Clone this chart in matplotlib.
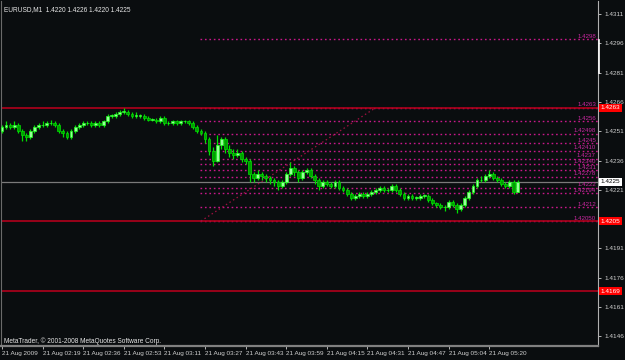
import numpy as np
import matplotlib
matplotlib.use("Agg")
import matplotlib.pyplot as plt
from matplotlib.lines import Line2D

plt.rcParams['font.family'] = ['Liberation Sans', 'DejaVu Sans']

# EURUSD M1 bars (open, high, low, close), 21 Aug 2009 ~02:09 - 05:25
opens = [1.4251, 1.4253, 1.4254, 1.4253, 1.4254, 1.4251, 1.4249, 1.4248, 1.4251, 1.4253,
         1.4254, 1.4254, 1.4255, 1.4255, 1.4254, 1.4251, 1.4250, 1.4248, 1.4251, 1.4253,
         1.4254, 1.4255, 1.4255, 1.4254, 1.4255, 1.4254, 1.4256, 1.4259, 1.4259, 1.4260,
         1.4261, 1.4261, 1.4260, 1.4259, 1.4259, 1.4259, 1.4258, 1.4257, 1.4257, 1.4256,
         1.4258, 1.4255, 1.4255, 1.4256, 1.4255, 1.4256, 1.4256, 1.4255, 1.4253, 1.4251,
         1.4250, 1.4247, 1.4241, 1.4236, 1.4244, 1.4247, 1.4242, 1.4240, 1.4239, 1.4240,
         1.4237, 1.4236, 1.4229, 1.4227, 1.4229, 1.4228, 1.4227, 1.4226, 1.4225, 1.4223,
         1.4225, 1.4229, 1.4232, 1.4230, 1.4227, 1.4230, 1.4231, 1.4228, 1.4226, 1.4223,
         1.4225, 1.4224, 1.4223, 1.4225, 1.4222, 1.4221, 1.4219, 1.4217, 1.4218, 1.4219,
         1.4218, 1.4219, 1.4220, 1.4221, 1.4222, 1.4221, 1.4221, 1.4223, 1.4221, 1.4219,
         1.4217, 1.4218, 1.4217, 1.4217, 1.4218, 1.4218, 1.4216, 1.4214, 1.4213, 1.4212,
         1.4212, 1.4215, 1.4213, 1.4211, 1.4213, 1.4217, 1.4220, 1.4223, 1.4226, 1.4226,
         1.4228, 1.4229, 1.4227, 1.4226, 1.4224, 1.4223, 1.4225, 1.4220]
highs = [1.4254, 1.4256, 1.4255, 1.4256, 1.4255, 1.4252, 1.4250, 1.4252, 1.4254, 1.4255,
         1.4256, 1.4256, 1.4257, 1.4256, 1.4255, 1.4252, 1.4251, 1.4252, 1.4254, 1.4255,
         1.4256, 1.4256, 1.4256, 1.4256, 1.4256, 1.4257, 1.4260, 1.4260, 1.4261, 1.4262,
         1.4263, 1.4262, 1.4261, 1.4261, 1.4260, 1.4260, 1.4259, 1.4258, 1.4258, 1.4259,
         1.4259, 1.4256, 1.4257, 1.4257, 1.4257, 1.4257, 1.4257, 1.4256, 1.4254, 1.4252,
         1.4251, 1.4248, 1.4243, 1.4249, 1.4248, 1.4248, 1.4244, 1.4242, 1.4242, 1.4241,
         1.4238, 1.4237, 1.4230, 1.4231, 1.4230, 1.4229, 1.4228, 1.4227, 1.4226, 1.4226,
         1.4230, 1.4235, 1.4233, 1.4231, 1.4231, 1.4232, 1.4232, 1.4229, 1.4227, 1.4226,
         1.4226, 1.4225, 1.4226, 1.4226, 1.4223, 1.4222, 1.4220, 1.4219, 1.4220, 1.4220,
         1.4220, 1.4221, 1.4222, 1.4223, 1.4223, 1.4222, 1.4224, 1.4224, 1.4222, 1.4220,
         1.4219, 1.4219, 1.4218, 1.4219, 1.4219, 1.4219, 1.4217, 1.4215, 1.4214, 1.4213,
         1.4216, 1.4216, 1.4214, 1.4214, 1.4218, 1.4221, 1.4224, 1.4227, 1.4228, 1.4229,
         1.4231, 1.4230, 1.4228, 1.4227, 1.4225, 1.4226, 1.4226, 1.4226]
lows = [1.4250, 1.4252, 1.4252, 1.4252, 1.4250, 1.4246, 1.4246, 1.4247, 1.4250, 1.4252,
        1.4253, 1.4253, 1.4254, 1.4253, 1.4250, 1.4248, 1.4247, 1.4247, 1.4250, 1.4252,
        1.4253, 1.4254, 1.4253, 1.4253, 1.4253, 1.4253, 1.4255, 1.4258, 1.4258, 1.4259,
        1.4260, 1.4259, 1.4258, 1.4258, 1.4258, 1.4257, 1.4256, 1.4256, 1.4255, 1.4255,
        1.4254, 1.4254, 1.4254, 1.4254, 1.4254, 1.4255, 1.4254, 1.4252, 1.4250, 1.4249,
        1.4245, 1.4239, 1.4233, 1.4235, 1.4242, 1.4240, 1.4238, 1.4237, 1.4238, 1.4235,
        1.4234, 1.4225, 1.4225, 1.4226, 1.4226, 1.4225, 1.4224, 1.4223, 1.4221, 1.4222,
        1.4224, 1.4228, 1.4228, 1.4225, 1.4226, 1.4229, 1.4227, 1.4224, 1.4221, 1.4222,
        1.4223, 1.4222, 1.4222, 1.4221, 1.4220, 1.4218, 1.4216, 1.4216, 1.4217, 1.4217,
        1.4217, 1.4218, 1.4219, 1.4220, 1.4220, 1.4220, 1.4220, 1.4220, 1.4218, 1.4216,
        1.4216, 1.4216, 1.4216, 1.4216, 1.4217, 1.4215, 1.4213, 1.4212, 1.4211, 1.4210,
        1.4211, 1.4212, 1.4209, 1.4210, 1.4212, 1.4216, 1.4219, 1.4222, 1.4225, 1.4225,
        1.4227, 1.4226, 1.4225, 1.4223, 1.4222, 1.4222, 1.4219, 1.4220]
closes = [1.4253, 1.4254, 1.4253, 1.4254, 1.4251, 1.4249, 1.4248, 1.4251, 1.4253, 1.4254,
          1.4254, 1.4255, 1.4255, 1.4254, 1.4251, 1.4250, 1.4248, 1.4251, 1.4253, 1.4254,
          1.4255, 1.4255, 1.4254, 1.4255, 1.4254, 1.4256, 1.4259, 1.4259, 1.4260, 1.4261,
          1.4261, 1.4260, 1.4259, 1.4259, 1.4259, 1.4258, 1.4257, 1.4257, 1.4256, 1.4258,
          1.4255, 1.4255, 1.4256, 1.4255, 1.4256, 1.4256, 1.4255, 1.4253, 1.4251, 1.4250,
          1.4247, 1.4241, 1.4236, 1.4244, 1.4247, 1.4242, 1.4240, 1.4239, 1.4240, 1.4237,
          1.4236, 1.4229, 1.4227, 1.4229, 1.4228, 1.4227, 1.4226, 1.4225, 1.4223, 1.4225,
          1.4229, 1.4232, 1.4230, 1.4227, 1.4230, 1.4231, 1.4228, 1.4226, 1.4223, 1.4225,
          1.4224, 1.4223, 1.4225, 1.4222, 1.4221, 1.4219, 1.4217, 1.4218, 1.4219, 1.4218,
          1.4219, 1.4220, 1.4221, 1.4222, 1.4221, 1.4221, 1.4223, 1.4221, 1.4219, 1.4217,
          1.4218, 1.4217, 1.4217, 1.4218, 1.4218, 1.4216, 1.4214, 1.4213, 1.4212, 1.4212,
          1.4215, 1.4213, 1.4211, 1.4213, 1.4217, 1.4220, 1.4223, 1.4226, 1.4226, 1.4228,
          1.4229, 1.4227, 1.4226, 1.4224, 1.4223, 1.4225, 1.4220, 1.4225]

time_labels = ["21 Aug 2009", "21 Aug 02:19", "21 Aug 02:36", "21 Aug 02:53", "21 Aug 03:11",
               "21 Aug 03:27", "21 Aug 03:43", "21 Aug 03:59", "21 Aug 04:15", "21 Aug 04:31",
               "21 Aug 04:47", "21 Aug 05:04", "21 Aug 05:20"]
price_ticks = [1.4311, 1.4296, 1.4281, 1.4266, 1.4251, 1.4236, 1.4221,
               1.4191, 1.4176, 1.4161, 1.4146]

# dotted level lines (fibo), labels as shown on chart
level_prices = [1.4298, 1.4263, 1.4256, 1.42498, 1.4245, 1.4241, 1.4237, 1.4234,
                1.4231, 1.42278, 1.4222, 1.42194, 1.4212, 1.4205]
level_labels = ["1.4298", "1.4263", "1.4256", "1.42498", "1.4245", "1.42410", "1.4237",
                "1.42340", "1.4231", "1.42278", "1.4222", "1.42194", "1.4212", "1.42050"]
red_lines = [1.4263, 1.4205, 1.4169]
current_price = 1.4225
trend_start = (49, 1.4205)
trend_end = (92, 1.4263)

bg = '#0a0d0f'
fig = plt.figure(figsize=(6.25, 3.6), dpi=100, facecolor=bg)
ax = fig.add_axes([1 / 625, 14 / 360, 597 / 625, 345 / 360], facecolor=bg)

o = np.array(opens); h = np.array(highs); l = np.array(lows); c = np.array(closes)
x = np.arange(len(c))

# level lines
for p, lab in zip(level_prices, level_labels):
    ax.plot([48.8, 147], [p, p], color='#c8188a', lw=1.0, ls=(0, (1.2, 2.0)), zorder=2)
    ax.text(146.3, p + 0.00002, lab, color='#c828a0', fontsize=4.4, ha='right', va='bottom', zorder=5)
for p in red_lines:
    ax.axhline(p, color='#b0001c', lw=1.2, zorder=2)
ax.axhline(current_price, color='#7a7a7a', lw=0.9, zorder=2)
ax.plot([trend_start[0], trend_end[0]], [trend_start[1], trend_end[1]],
        color='#a01040', lw=0.9, ls=(0, (1.2, 2.2)), zorder=2)

# candles
up = c >= o
ax.vlines(x, l, h, color='#00e000', lw=0.9, zorder=3)
body_lo = np.minimum(o, c)
body_h = np.maximum(np.abs(c - o), 0.000015)
ax.bar(x[up], body_h[up], bottom=body_lo[up], width=0.7, color='#98ff98',
       edgecolor='#20ff20', linewidth=0.5, zorder=4)
ax.bar(x[~up], body_h[~up], bottom=body_lo[~up], width=0.7, color='#00a000',
       edgecolor='#00e000', linewidth=0.5, zorder=4)

ax.set_xlim(-0.25, 146.8)
ax.set_ylim(1.41410, 1.43177)

ax.set_xticks(np.arange(0, 10 * len(time_labels), 10))
ax.set_xticklabels(time_labels, ha='left')
ax.yaxis.tick_right()
ax.set_yticks(price_ticks)
ax.set_yticklabels([f"{p:.4f}" for p in price_ticks])
ax.tick_params(axis='x', colors='#d0d0d0', labelsize=4.6, length=2, pad=1.5, width=0.6)
ax.tick_params(axis='y', colors='#d0d0d0', labelsize=4.6, length=2.5, pad=2, width=0.6)

ax.spines['top'].set_visible(False)
ax.spines['left'].set_color('#6a6a6a')
ax.spines['right'].set_color('#b0b0b0')
ax.spines['bottom'].set_color('#808080')
ax.spines['bottom'].set_linewidth(1.6)
ax.spines['right'].set_linewidth(0.8)

# price boxes on the right scale
yt = ax.get_yaxis_transform()
for p in red_lines:
    ax.text(1.004, p, f"{p:.4f}", transform=yt, fontsize=4.6, color='white', ha='left',
            va='center', clip_on=False,
            bbox=dict(boxstyle='square,pad=0.25', fc='#ff0000', ec='none'))
ax.text(1.004, current_price, f"{current_price:.4f}", transform=yt, fontsize=4.6,
        color='black', ha='left', va='center', clip_on=False,
        bbox=dict(boxstyle='square,pad=0.25', fc='white', ec='none'))

# scale marker on the right axis
fig.add_artist(Line2D([599 / 625, 599 / 625], [1 - 40 / 360, 1 - 73 / 360],
                      color='white', lw=1.2))

ax.text(0.005, 0.985, "EURUSD,M1  1.4220 1.4226 1.4220 1.4225", transform=ax.transAxes,
        color='#e8e8e8', fontsize=4.7, ha='left', va='top')
ax.text(0.005, 0.003, "MetaTrader, \u00a9 2001-2008 MetaQuotes Software Corp.",
        transform=ax.transAxes, color='#e8e8e8', fontsize=4.7, ha='left', va='bottom')

fig.savefig('out.png', dpi=100, facecolor=bg)
